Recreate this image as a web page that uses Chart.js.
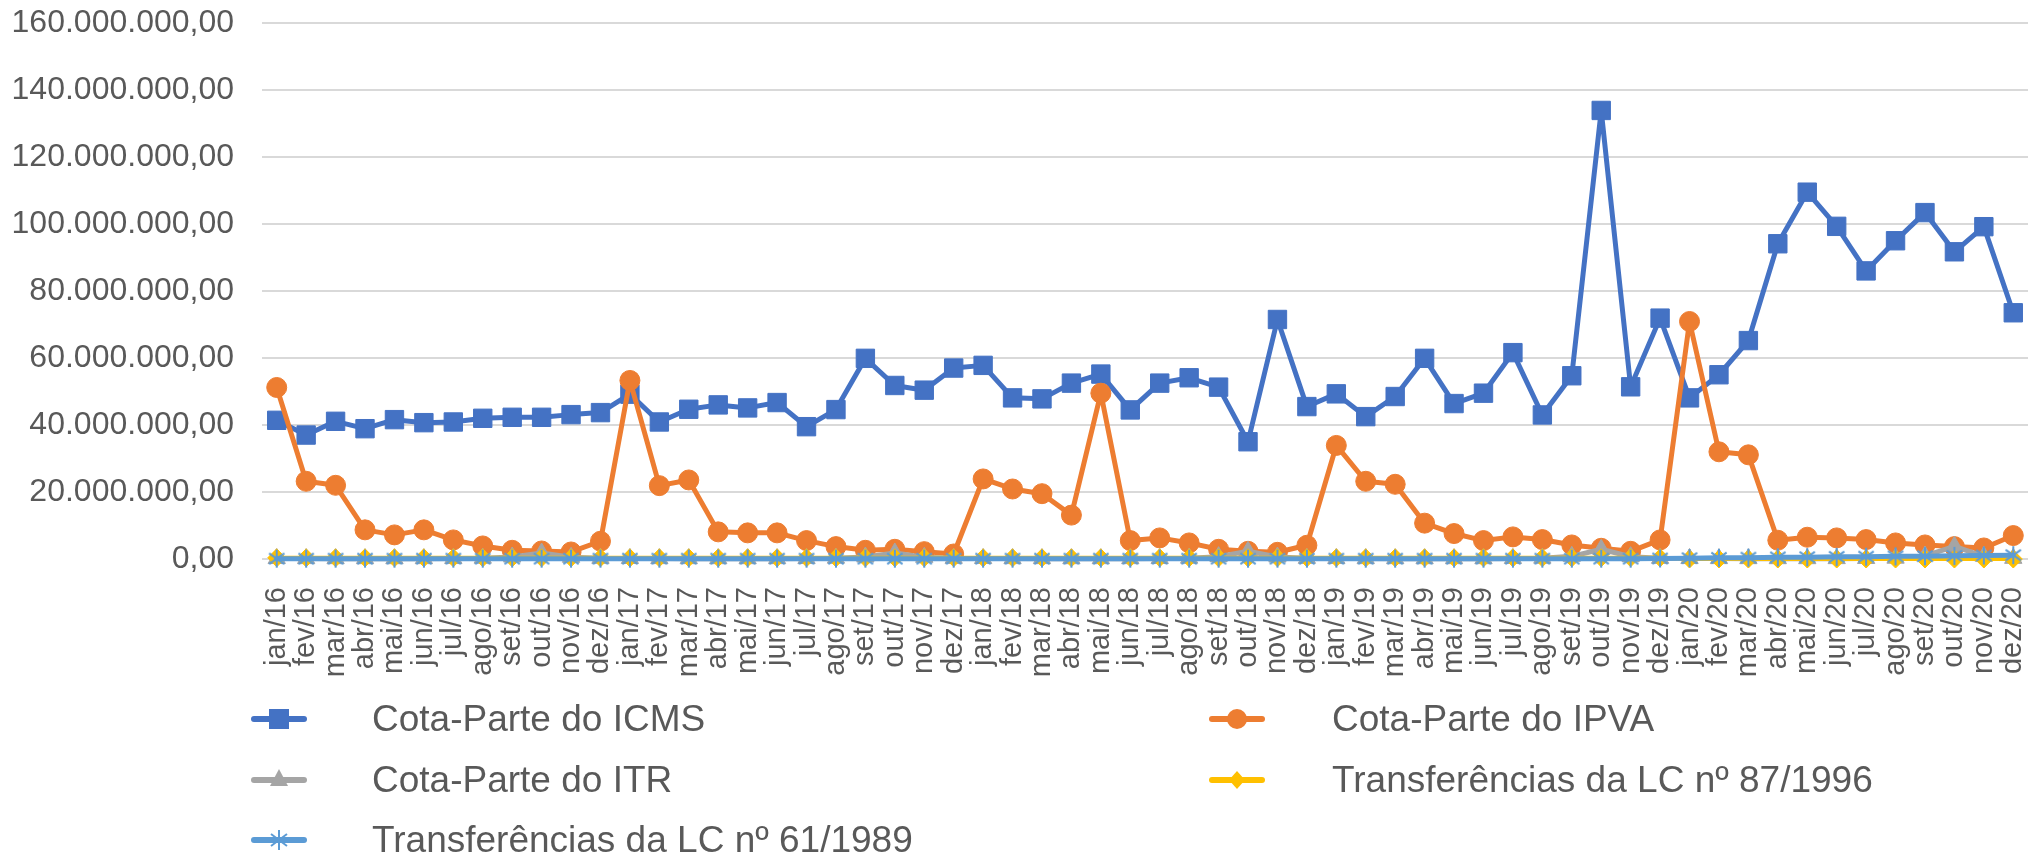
<!DOCTYPE html>
<html lang="pt-BR">
<head>
<meta charset="utf-8">
<title>Transferências constitucionais 2016-2020</title>
<script src="https://cdn.jsdelivr.net/npm/chart.js@4.4.1/dist/chart.umd.min.js"></script>
<style>
    body { margin: 0; background: #ffffff; }
    #wrap { position: relative; width: 2043px; height: 855px; overflow: hidden; }
    #chart { position: absolute; left: 0; top: 0; }
    .legend-item { position: absolute; height: 40px; }
    .legend-item svg { position: absolute; left: 0; top: 5px; }
    .legend-item span {
        position: absolute; top: 0; white-space: nowrap;
        font-family: "Liberation Sans", Arial, sans-serif; font-size: 37px; line-height: 40px;
        color: #595959;
    }
</style>
</head>
<body>
<div id="wrap">
    <canvas id="chart" width="2043" height="855"></canvas>
    <div id="legend"></div>
</div>
<script>
const months = [
    'jan/16', 'fev/16', 'mar/16', 'abr/16', 'mai/16', 'jun/16', 'jul/16', 'ago/16', 'set/16', 'out/16', 'nov/16', 'dez/16',
    'jan/17', 'fev/17', 'mar/17', 'abr/17', 'mai/17', 'jun/17', 'jul/17', 'ago/17', 'set/17', 'out/17', 'nov/17', 'dez/17',
    'jan/18', 'fev/18', 'mar/18', 'abr/18', 'mai/18', 'jun/18', 'jul/18', 'ago/18', 'set/18', 'out/18', 'nov/18', 'dez/18',
    'jan/19', 'fev/19', 'mar/19', 'abr/19', 'mai/19', 'jun/19', 'jul/19', 'ago/19', 'set/19', 'out/19', 'nov/19', 'dez/19',
    'jan/20', 'fev/20', 'mar/20', 'abr/20', 'mai/20', 'jun/20', 'jul/20', 'ago/20', 'set/20', 'out/20', 'nov/20', 'dez/20'
];

// Monthly values in R$
const icms = [
    41400000, 37000000, 41100000, 38900000, 41600000, 40700000, 40900000, 42000000, 42300000, 42300000, 43100000, 43700000,
    49200000, 40900000, 44700000, 46000000, 45100000, 46700000, 39500000, 44600000, 59900000, 51800000, 50400000, 57000000,
    57800000, 48100000, 47800000, 52500000, 55200000, 44500000, 52500000, 54100000, 51300000, 35000000, 71500000, 45500000,
    49300000, 42500000, 48500000, 59900000, 46400000, 49500000, 61600000, 43000000, 54700000, 133900000, 51400000, 71900000,
    48100000, 55000000, 65200000, 94100000, 109500000, 99300000, 86000000, 95000000, 103400000, 91700000, 99200000, 73500000
];

const ipva = [
    51200000, 23200000, 22000000, 8700000, 7200000, 8700000, 5700000, 3900000, 2600000, 2400000, 2100000, 5300000,
    53300000, 21900000, 23600000, 8100000, 7800000, 7800000, 5500000, 3700000, 2600000, 2900000, 2200000, 1500000,
    23900000, 20900000, 19500000, 13100000, 49500000, 5500000, 6300000, 4800000, 2900000, 2300000, 2000000, 4100000,
    33900000, 23200000, 22300000, 10700000, 7600000, 5500000, 6600000, 5800000, 4200000, 3200000, 2300000, 5700000,
    70900000, 32000000, 31100000, 5600000, 6500000, 6300000, 5800000, 4800000, 4200000, 3700000, 3300000, 7000000
];

const itr = [
    150000, 120000, 110000, 100000, 100000, 110000, 150000, 250000, 600000, 1800000, 500000, 200000,
    150000, 120000, 110000, 100000, 100000, 110000, 150000, 250000, 600000, 1800000, 500000, 200000,
    150000, 120000, 110000, 100000, 100000, 110000, 150000, 250000, 700000, 2300000, 600000, 200000,
    150000, 120000, 110000, 100000, 100000, 110000, 150000, 250000, 800000, 2900000, 700000, 200000,
    150000, 120000, 110000, 100000, 100000, 110000, 150000, 250000, 900000, 3800000, 800000, 200000
];

const lc87 = [
    350000, 350000, 350000, 350000, 350000, 350000, 350000, 350000, 350000, 350000, 350000, 350000,
    350000, 350000, 350000, 350000, 350000, 350000, 350000, 350000, 350000, 350000, 350000, 350000,
    350000, 350000, 350000, 350000, 350000, 350000, 350000, 350000, 350000, 350000, 350000, 350000,
    350000, 350000, 350000, 350000, 350000, 350000, 350000, 350000, 350000, 350000, 350000, 350000,
    0, 0, 0, 0, 0, 0, 0, 0, 0, 0, 0, 0
];

const lc61 = [
    100000, 100000, 100000, 100000, 100000, 100000, 100000, 100000, 100000, 100000, 100000, 100000,
    100000, 100000, 100000, 100000, 100000, 100000, 100000, 100000, 100000, 100000, 100000, 100000,
    100000, 100000, 100000, 100000, 100000, 100000, 100000, 100000, 100000, 100000, 100000, 100000,
    100000, 100000, 100000, 100000, 100000, 100000, 100000, 100000, 100000, 100000, 100000, 150000,
    250000, 350000, 400000, 500000, 550000, 650000, 700000, 800000, 850000, 950000, 1050000, 1150000
];

const yTicks = [0, 20000000, 40000000, 60000000, 80000000, 100000000, 120000000, 140000000, 160000000];

const COLORS = {
    icms: '#4472C4',
    ipva: '#ED7D31',
    itr: '#A5A5A5',
    lc87: '#FFC000',
    lc61: '#5B9BD5'
};

// 160000000 -> "160.000.000,00"
function formatBRL(value) {
    const whole = Math.round(value).toString().replace(/\B(?=(\d{3})+(?!\d))/g, '.');
    return whole + ',00';
}

// Asterisk marker (x plus vertical bar) for the LC 61/1989 series
function asteriskMarker(size, color) {
    const c = document.createElement('canvas');
    c.width = size;
    c.height = size;
    const g = c.getContext('2d');
    const m = size / 2;
    const r = size / 2 - 1;
    g.strokeStyle = color;
    g.lineWidth = 2;
    g.beginPath();
    g.moveTo(m - r * 0.85, m - r * 0.6); g.lineTo(m + r * 0.85, m + r * 0.6);
    g.moveTo(m - r * 0.85, m + r * 0.6); g.lineTo(m + r * 0.85, m - r * 0.6);
    g.moveTo(m, m - r); g.lineTo(m, m + r);
    g.stroke();
    return c;
}

const ctx = document.getElementById('chart').getContext('2d');

new Chart(ctx, {
    type: 'line',
    data: {
        labels: months,
        datasets: [
            {
                label: 'Cota-Parte do ICMS',
                data: icms,
                borderColor: COLORS.icms,
                backgroundColor: COLORS.icms,
                borderWidth: 5,
                pointStyle: 'rect',
                pointRadius: 13,
                pointBorderWidth: 1,
                order: 5
            },
            {
                label: 'Cota-Parte do IPVA',
                data: ipva,
                borderColor: COLORS.ipva,
                backgroundColor: COLORS.ipva,
                borderWidth: 5,
                pointStyle: 'circle',
                pointRadius: 10,
                pointBorderWidth: 1,
                order: 4
            },
            {
                label: 'Cota-Parte do ITR',
                data: itr,
                borderColor: COLORS.itr,
                backgroundColor: COLORS.itr,
                borderWidth: 5,
                pointStyle: 'triangle',
                pointRadius: 10,
                pointBorderWidth: 1,
                order: 3
            },
            {
                label: 'Transferências da LC nº 87/1996',
                data: lc87,
                borderColor: COLORS.lc87,
                backgroundColor: COLORS.lc87,
                borderWidth: 4,
                pointStyle: 'rectRot',
                pointRadius: 9,
                pointBorderWidth: 1,
                order: 2
            },
            {
                label: 'Transferências da LC nº 61/1989',
                data: lc61,
                borderColor: COLORS.lc61,
                backgroundColor: COLORS.lc61,
                borderWidth: 5,
                pointStyle: asteriskMarker(20, COLORS.lc61),
                pointRadius: 10,
                order: 1
            }
        ]
    },
    options: {
        responsive: false,
        animation: false,
        devicePixelRatio: 1,
        layout: { padding: { top: 23, right: 0, bottom: 0, left: 0 } },
        elements: { line: { tension: 0, borderJoinStyle: 'round', borderCapStyle: 'round' } },
        datasets: { line: { clip: false } },
        plugins: {
            legend: { display: false },
            tooltip: { enabled: false }
        },
        scales: {
            x: {
                offset: true,
                grid: { display: false },
                border: { display: false },
                ticks: {
                    autoSkip: false,
                    minRotation: 90,
                    maxRotation: 90,
                    padding: 20,
                    color: '#595959',
                    font: { family: '"Liberation Sans", Arial, sans-serif', size: 29 }
                },
                afterFit: (scale) => {
                    scale.height = 296;
                    scale.paddingLeft = 0;
                    scale.paddingRight = 0;
                }
            },
            y: {
                min: 0,
                max: 160000000,
                afterBuildTicks: (scale) => { scale.ticks = yTicks.map(v => ({ value: v })); },
                grid: { color: '#D9D9D9', lineWidth: 2, drawTicks: false },
                border: { display: false },
                ticks: {
                    padding: 28,
                    color: '#595959',
                    font: { family: '"Liberation Sans", Arial, sans-serif', size: 32 },
                    callback: (value) => formatBRL(value)
                },
                afterFit: (scale) => {
                    scale.width = 262;
                    scale.paddingTop = 0;
                    scale.paddingBottom = 0;
                }
            }
        }
    }
});

// Legend below the plot, two columns
const legendItems = [
    { text: 'Cota-Parte do ICMS', color: COLORS.icms, marker: 'square', x: 251, textX: 372, y: 719 },
    { text: 'Cota-Parte do IPVA', color: COLORS.ipva, marker: 'circle', x: 1209, textX: 1332, y: 719 },
    { text: 'Cota-Parte do ITR', color: COLORS.itr, marker: 'triangle', x: 251, textX: 372, y: 780 },
    { text: 'Transferências da LC nº 87/1996', color: COLORS.lc87, marker: 'diamond', x: 1209, textX: 1332, y: 780 },
    { text: 'Transferências da LC nº 61/1989', color: COLORS.lc61, marker: 'asterisk', x: 251, textX: 372, y: 840 }
];

function markerSvg(kind, color) {
    let shape = '';
    if (kind === 'square') {
        shape = `<rect x="18" y="5" width="20" height="20" fill="${color}"/>`;
    } else if (kind === 'circle') {
        shape = `<circle cx="28" cy="15" r="10" fill="${color}"/>`;
    } else if (kind === 'triangle') {
        shape = `<polygon points="28,4 37,21 19,21" fill="${color}"/>`;
    } else if (kind === 'diamond') {
        shape = `<polygon points="28,6 36,15 28,24 20,15" fill="${color}"/>`;
    } else {
        shape = `<path d="M20,9 L36,21 M20,21 L36,9 M28,5 L28,25" stroke="${color}" stroke-width="2"/>`;
    }
    return `<svg width="56" height="30" viewBox="0 0 56 30">` +
        `<line x1="3" y1="15" x2="53" y2="15" stroke="${color}" stroke-width="6" stroke-linecap="round"/>` +
        shape + `</svg>`;
}

const legend = document.getElementById('legend');
legendItems.forEach(item => {
    const el = document.createElement('div');
    el.className = 'legend-item';
    el.style.left = item.x + 'px';
    el.style.top = (item.y - 20) + 'px';
    el.innerHTML = markerSvg(item.marker, item.color) +
        `<span style="left:${item.textX - item.x}px">${item.text}</span>`;
    legend.appendChild(el);
});
</script>
</body>
</html>
